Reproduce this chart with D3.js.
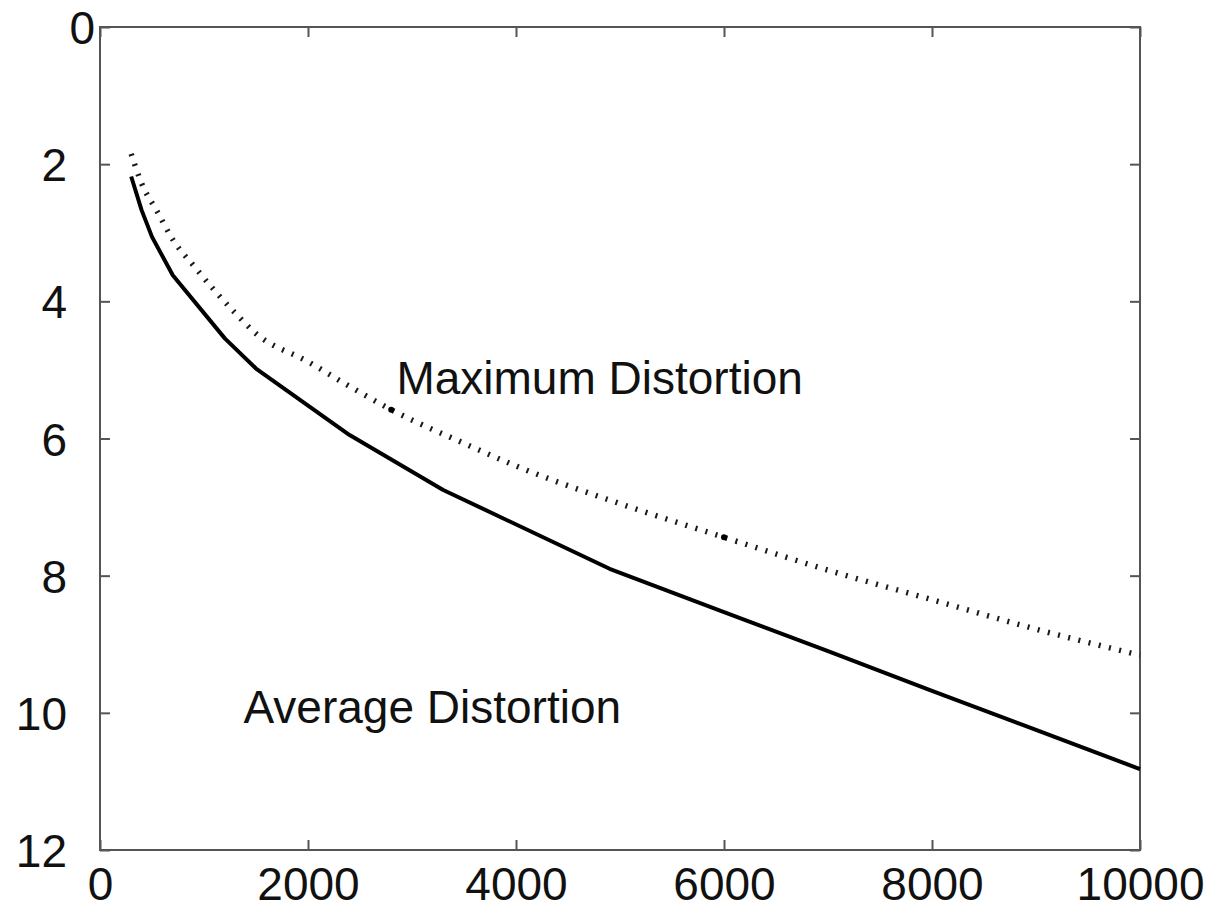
<!DOCTYPE html>
<html>
<head>
<meta charset="utf-8">
<script src="https://cdn.jsdelivr.net/npm/d3@7"></script>
<style>
  html, body { margin: 0; padding: 0; background: #fff; }
  svg { display: block; font-family: "Liberation Sans", Arial, sans-serif; }
</style>
</head>
<body>
<svg id="chart" width="1212" height="910"></svg>
<script>
// ---- data ----
const avgX = [300, 400, 500, 700, 1200, 1500, 2400, 3300, 4900, 6000, 7000, 8000, 9000, 10000];
const avgY = [2.18, 2.67, 3.06, 3.62, 4.54, 4.98, 5.95, 6.75, 7.9, 8.53, 9.1, 9.68, 10.25, 10.82];

const maxX = [300, 400, 550, 700, 900, 1100, 1300, 1500, 2000, 2400, 2800, 3500, 4000, 5000, 6000, 7000, 8000, 9000, 10000];
const maxY = [1.85, 2.28, 2.69, 3.1, 3.48, 3.84, 4.17, 4.47, 4.88, 5.24, 5.58, 6.07, 6.4, 6.95, 7.44, 7.92, 8.35, 8.78, 9.16];

const markX = [2800, 6000];
const markY = [5.58, 7.44];

const xTicks = [0, 2000, 4000, 6000, 8000, 10000];
const yTicks = [0, 2, 4, 6, 8, 10, 12];

const labels = [
  { text: "Maximum Distortion", x: 2850, y: 5.35 },
  { text: "Average Distortion", x: 1380, y: 10.15 }
];

// ---- layout ----
const L = 100, R = 1140, T = 27, B = 850;
const svg = d3.select("#chart");
const x = d3.scaleLinear().domain([0, 10000]).range([L, R]);
const y = d3.scaleLinear().domain([0, 12]).range([T, B]);

const axisColor = "#555";
const fontSize = 46;

function styleAxis(g) {
  g.select(".domain").remove();
  g.selectAll(".tick line").attr("stroke", axisColor).attr("stroke-width", 2);
  g.selectAll(".tick text").attr("fill", "#111").attr("font-size", fontSize)
    .attr("font-family", "'Liberation Sans', Arial, sans-serif");
}

// left axis (labels)
svg.append("g").attr("transform", `translate(${L},0)`)
  .call(d3.axisLeft(y).tickValues(yTicks).tickSizeInner(-10).tickSizeOuter(0).tickPadding(33).tickFormat(d3.format("d")))
  .call(styleAxis)
  .call(g => g.selectAll(".tick text").attr("dy", "0.36em")
    .attr("dx", d => d === 0 ? 28 : 0));

// right axis (ticks only)
svg.append("g").attr("transform", `translate(${R},0)`)
  .call(d3.axisRight(y).tickValues(yTicks).tickSizeInner(-10).tickSizeOuter(0).tickFormat(""))
  .call(styleAxis);

// bottom axis (labels)
svg.append("g").attr("transform", `translate(0,${B})`)
  .call(d3.axisBottom(x).tickValues(xTicks).tickSizeInner(-10).tickSizeOuter(0).tickPadding(17).tickFormat(d3.format("d")))
  .call(styleAxis);

// top axis (ticks only)
svg.append("g").attr("transform", `translate(0,${T})`)
  .call(d3.axisTop(x).tickValues(xTicks).tickSizeInner(-10).tickSizeOuter(0).tickFormat(""))
  .call(styleAxis);

// frame
svg.append("rect").attr("x", L).attr("y", T).attr("width", R - L).attr("height", B - T)
  .attr("fill", "none").attr("stroke", axisColor).attr("stroke-width", 2);

// lines
const avgData = avgX.map((v, i) => [v, avgY[i]]);
const maxData = maxX.map((v, i) => [v, maxY[i]]);

svg.append("path").datum(maxData)
  .attr("fill", "none").attr("stroke", "#1a1a1a").attr("stroke-width", 5.5)
  .attr("stroke-dasharray", "2,8.5")
  .attr("d", d3.line().x(d => x(d[0])).y(d => y(d[1])).curve(d3.curveMonotoneX));

svg.append("path").datum(avgData)
  .attr("fill", "none").attr("stroke", "#000").attr("stroke-width", 4)
  .attr("stroke-linejoin", "round")
  .attr("d", d3.line().x(d => x(d[0])).y(d => y(d[1])));

svg.selectAll("circle.mk").data(markX.map((v, i) => [v, markY[i]])).enter()
  .append("circle").attr("class", "mk")
  .attr("cx", d => x(d[0])).attr("cy", d => y(d[1])).attr("r", 3).attr("fill", "#000");

// labels
svg.selectAll("text.lbl").data(labels).enter().append("text").attr("class", "lbl")
  .attr("x", d => x(d.x)).attr("y", d => y(d.y))
  .attr("font-size", fontSize).attr("fill", "#111")
  .text(d => d.text);
</script>
</body>
</html>
